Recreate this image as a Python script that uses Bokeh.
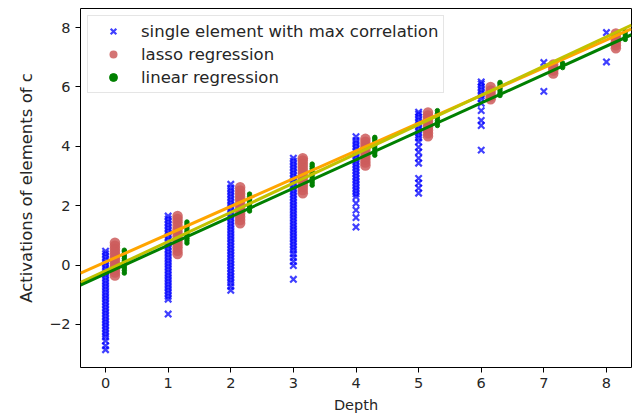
from bokeh.plotting import figure
from bokeh.models import Range1d, Legend, LegendItem, FixedTicker
from bokeh.embed import file_html
from bokeh.resources import INLINE

depths = [0, 1, 2, 3, 4, 5, 6, 7, 8]
x_ticks = [0, 1, 2, 3, 4, 5, 6, 7, 8]
y_ticks = [-2, 0, 2, 4, 6, 8]
y_tick_labels = {-2: "\u22122", 0: "0", 2: "2", 4: "4", 6: "6", 8: "8"}

# single element with max correlation (per depth)
single_max = [
    [-2.85, -2.72, -2.55, -2.42, -2.32, -2.22, -2.12, -2.02, -1.92, -1.82, -1.72, -1.62, -1.52, -1.42,
     -1.32, -1.22, -1.12, -1.02, -0.92, -0.82, -0.72, -0.62, -0.52, -0.42, -0.32, -0.22, -0.12, -0.02,
     0.08, 0.18, 0.28, 0.38, 0.47],
    [-1.65, -1.15, -1.05, -0.95, -0.85, -0.75, -0.65, -0.55, -0.45, -0.35, -0.25, -0.15, -0.05, 0.05,
     0.15, 0.25, 0.35, 0.45, 0.55, 0.65, 0.75, 0.85, 0.95, 1.05, 1.15, 1.25, 1.35, 1.45, 1.55, 1.65],
    [-0.85, -0.72, -0.6, -0.5, -0.4, -0.3, -0.2, -0.1, 0.0, 0.1, 0.2, 0.3, 0.4, 0.5, 0.6, 0.7, 0.8,
     0.9, 1.0, 1.1, 1.2, 1.3, 1.4, 1.5, 1.6, 1.7, 1.8, 1.9, 2.0, 2.1, 2.2, 2.3, 2.4, 2.5, 2.6, 2.72],
    [-0.48, -0.02, 0.12, 0.25, 0.38, 0.5, 0.6, 0.7, 0.8, 0.9, 1.0, 1.1, 1.2, 1.3, 1.4, 1.5, 1.6, 1.7,
     1.8, 1.9, 2.0, 2.1, 2.2, 2.3, 2.4, 2.5, 2.6, 2.7, 2.8, 2.9, 3.0, 3.1, 3.2, 3.3, 3.4, 3.5, 3.6],
    [1.28, 1.6, 1.85, 2.08, 2.3, 2.4, 2.5, 2.6, 2.7, 2.8, 2.9, 3.0, 3.1, 3.2, 3.3, 3.4, 3.5, 3.6, 3.7,
     3.8, 3.9, 4.0, 4.1, 4.2, 4.32],
    [2.42, 2.59, 2.76, 2.92, 3.43, 3.6, 3.8, 3.97, 4.15, 4.28, 4.38, 4.48, 4.58, 4.68, 4.78, 4.88,
     4.98, 5.08, 5.15],
    [3.87, 4.7, 4.87, 5.2, 5.45, 5.6, 5.7, 5.8, 5.9, 6.0, 6.1, 6.17],
    [5.85, 6.82],
    [6.84, 7.83],
]

# lasso regression (per depth)
lasso = [
    [-0.35, -0.25, -0.15, -0.05, 0.05, 0.15, 0.25, 0.35, 0.45, 0.55, 0.65, 0.75],
    [0.37, 0.48, 0.6, 0.72, 0.84, 0.96, 1.08, 1.2, 1.32, 1.44, 1.55, 1.65],
    [1.41, 1.52, 1.63, 1.74, 1.85, 1.96, 2.07, 2.18, 2.29, 2.4, 2.51, 2.62],
    [2.42, 2.53, 2.64, 2.75, 2.86, 2.97, 3.08, 3.19, 3.3, 3.41, 3.52, 3.6],
    [3.35, 3.45, 3.55, 3.65, 3.75, 3.85, 3.95, 4.05, 4.15, 4.25],
    [4.34, 4.44, 4.54, 4.64, 4.74, 4.84, 4.94, 5.04, 5.14],
    [5.58, 5.68, 5.78, 5.88, 6.0],
    [6.45, 6.55, 6.65, 6.75],
    [7.3, 7.4, 7.5, 7.6, 7.7, 7.8],
]

# linear regression (per depth)
linear = [
    [-0.27, -0.18, -0.1, -0.02, 0.06, 0.14, 0.22, 0.3, 0.38, 0.45, 0.5],
    [0.74, 0.82, 0.9, 0.98, 1.06, 1.14, 1.22, 1.3, 1.38, 1.45],
    [1.82, 1.9, 1.98, 2.06, 2.14, 2.22, 2.3, 2.39],
    [2.69, 2.77, 2.85, 2.93, 3.01, 3.09, 3.17, 3.25, 3.33, 3.4],
    [3.7, 3.78, 3.86, 3.94, 4.02, 4.1, 4.18, 4.25, 4.3],
    [4.7, 4.78, 4.86, 4.94, 5.02, 5.1, 5.2],
    [5.71, 5.79, 5.87, 5.95, 6.03, 6.1, 6.15],
    [6.65, 6.72, 6.8],
    [7.6, 7.68, 7.76, 7.85],
]

# fitted lines (slope, intercept)
fit_orange = (0.935, 0.104)
fit_yellow = (0.985, -0.195)
fit_green = (0.958, -0.29)

x_min, x_max = -0.4, 8.4
y_min, y_max = -3.45, 8.64

def flatten(groups, offset):
    xs, ys = [], []
    for d, vals in zip(depths, groups):
        for v in vals:
            xs.append(d + offset)
            ys.append(v)
    return xs, ys

p = figure(width=639, height=418, x_range=Range1d(x_min, x_max), y_range=Range1d(y_min, y_max),
           output_backend="svg", toolbar_location=None,
           min_border_left=80, min_border_right=8, min_border_top=8, min_border_bottom=51)
p.background_fill_color = "white"
p.border_fill_color = "white"
p.outline_line_color = "black"
p.outline_line_width = 1
p.xgrid.visible = False
p.ygrid.visible = False

bx, by = flatten(single_max, 0.0)
lx, ly = flatten(lasso, 0.15)
gx, gy = flatten(linear, 0.3)

r_blue = p.scatter(bx, by, marker="x", size=9, line_width=2.2, line_color="blue", line_alpha=0.75)
r_red = p.scatter(lx, ly, marker="circle", size=10.5, fill_color="indianred", fill_alpha=0.85, line_color=None)
r_green = p.scatter(gx, gy, marker="circle", size=4.5, fill_color="green", line_color="green", line_alpha=0.9)

for (a, b), col in [(fit_orange, "orange"), (fit_yellow, "#c2c200"), (fit_green, "green")]:
    p.line([x_min, x_max], [a * x_min + b, a * x_max + b], line_color=col, line_width=3)

font = "DejaVu Sans"
text_col = "#262626"
for ax in (p.xaxis[0], p.yaxis[0]):
    ax.major_tick_out = 5
    ax.major_tick_in = 0
    ax.minor_tick_out = 0
    ax.minor_tick_in = 0
    ax.axis_line_color = None
    ax.major_tick_line_color = "black"
    ax.major_label_text_font = font
    ax.major_label_text_font_size = "14.5px"
    ax.major_label_text_color = text_col
    ax.axis_label_text_font = font
    ax.axis_label_text_font_style = "normal"
    ax.axis_label_text_color = text_col

p.xaxis.axis_label_text_font_size = "14.5px"
p.yaxis.axis_label_text_font_size = "16.5px"
p.xaxis.ticker = FixedTicker(ticks=x_ticks)
p.yaxis.ticker = FixedTicker(ticks=y_ticks)
p.yaxis.major_label_overrides = y_tick_labels
p.xaxis.axis_label = "Depth"
p.yaxis.axis_label = "Activations of elements of c"
p.xaxis.major_label_standoff = 5
p.xaxis.axis_label_standoff = 6
p.yaxis.major_label_standoff = 5
p.yaxis.axis_label_standoff = 10

legend = Legend(items=[
    LegendItem(label="single element with max correlation", renderers=[r_blue]),
    LegendItem(label="lasso regression", renderers=[r_red]),
    LegendItem(label="linear regression", renderers=[r_green]),
], location="top_left")
legend.margin = 7
legend.padding = 5
legend.spacing = 3
legend.glyph_width = 40
legend.glyph_height = 20
legend.label_height = 20
legend.label_standoff = 8
legend.label_text_font = font
legend.label_text_font_size = "16.5px"
legend.label_text_color = text_col
legend.border_line_color = "#cccccc"
legend.background_fill_alpha = 0.8
p.add_layout(legend)

open("out.html", "w").write(file_html(p, INLINE))
